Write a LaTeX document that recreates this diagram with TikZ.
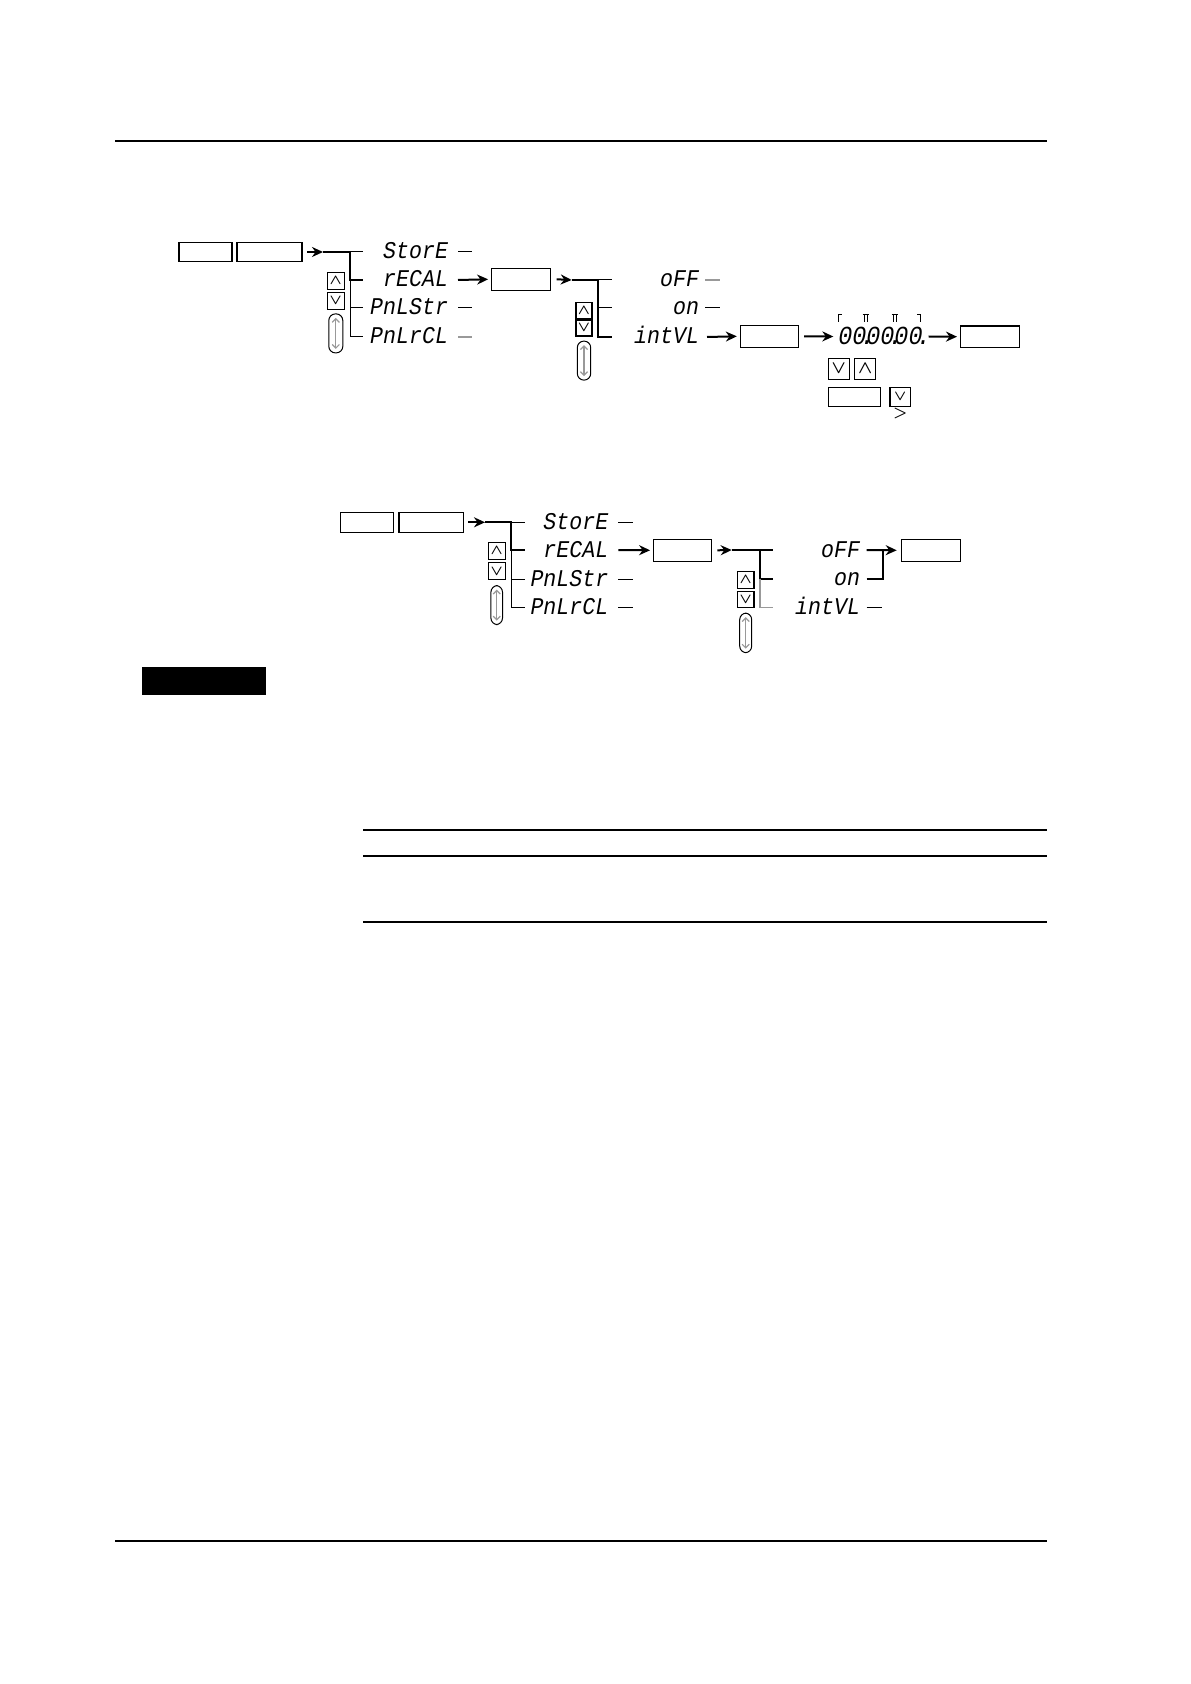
\documentclass[tikz,border=0pt]{standalone}
\usepackage{fontspec}
\newfontfamily\segfont{Liberation Mono}[FakeStretch=0.9]
\usetikzlibrary{positioning,arrows.meta}
\definecolor{lightline}{gray}{0.6}
\newcommand\segdot{\rlap{\kern-2.9pt.}}

\begin{document}
\begin{tikzpicture}[
	x=0.5pt, y=-0.5pt,
	every node/.style={inner sep=0pt, outer sep=0pt},
	btn/.style={rectangle, draw=black, line width=0.6pt, minimum height=10.5pt, minimum width=#1},
	btn/.default=29pt,
	key/.style={rectangle, draw=black, line width=0.6pt, minimum size=8.5pt, font=\scriptsize\boldmath},
	bigkey/.style={key, minimum size=10.5pt, font=\small\boldmath},
	updown/.style={rectangle, draw=black, line width=0.5pt, rounded corners=3.3pt, minimum width=7pt, minimum height=19.5pt},
	seg/.style={anchor=east, font=\segfont\itshape\fontsize{12}{12}\selectfont, text height=7pt, text depth=0pt},
	digits/.style={anchor=west, font=\segfont\itshape\fontsize{13}{13}\selectfont, text height=8pt, text depth=0pt},
	tip/.style={-{Stealth[length=5.5pt, width=5pt]}, line width=1pt},
	roll/.style={draw=lightline, line width=0.6pt, {Straight Barb[length=1.8pt]}-{Straight Barb[length=1.8pt]}},
	trunk/.style={line width=1pt},
	twig/.style={line width=0.5pt},
	faint/.style={line width=0.6pt, draw=lightline},
]
\useasboundingbox (0,0) rectangle (1190,1684);
\draw[line width=0.8pt] (115,141) -- (1047,141);
\draw[line width=0.8pt] (115,1541) -- (1047,1541);

% store / recall, interval
\node[btn=26.5pt, minimum height=9.5pt] (setA) at (205.5,252) {};
\node[btn=32.5pt, minimum height=9.5pt, right=2.5pt of setA] (funcA) {};
\coordinate (inA) at (323,252);
\coordinate (jA) at (350,252);
\coordinate (eA) at (363,252);
\node[seg] (storeA) at (448,252) {StorE};
\node[seg] (recalA) at (448,280) {rECAL};
\node[seg] (pstrA) at (448,308) {PnLStr};
\node[seg] (prclA) at (448,337) {PnLrCL};
\draw[tip] ([xshift=2.5pt]funcA.east) -- (inA);
\draw[trunk] (inA) -- (jA) |- (eA |- recalA.east);
\draw[twig] (jA) -- (eA);
\draw[twig] (jA |- recalA.east) |- (eA |- prclA.east);
\draw[twig] (jA |- pstrA.east) -- (eA |- pstrA.east);
\draw[twig] ([xshift=5pt]storeA.east) -- ++(7pt,0);
\draw[twig] ([xshift=5pt]pstrA.east) -- ++(7pt,0);
\draw[faint] ([xshift=5pt]prclA.east) -- ++(7pt,0);
\node[key] (upA) at (335.8,280.8) {$\wedge$};
\node[key, below=1.5pt of upA] (dnA) {$\vee$};
\node[updown, below=2.3pt of dnA] (rollA) {};
\draw[roll] ([yshift=-2pt]rollA.north) -- ([yshift=2pt]rollA.south);
\node[btn=29.5pt, minimum height=11pt] (modeA) at (521.2,279.3) {};
\draw[tip] ([xshift=5pt]recalA.east) -- ([xshift=-1.8pt]modeA.west);

\coordinate (inB) at (571.7,280);
\coordinate (jB) at (597.7,280);
\coordinate (eB) at (611.7,280);
\node[seg] (offA) at (699,280) {oFF};
\node[seg] (onA) at (699,308) {on};
\node[seg] (intA) at (699,337) {intVL};
\draw[tip] ([xshift=3pt]modeA.east) -- (inB);
\draw[trunk] (inB) -- (jB) |- (eB |- intA.east);
\draw[twig] (jB) -- (eB);
\draw[twig] (jB |- onA.east) -- (eB |- onA.east);
\draw[faint] ([xshift=3pt]offA.east) -- ++(7.5pt,0);
\draw[twig] ([xshift=3pt]onA.east) -- ++(7.5pt,0);
\node[key, minimum size=8pt] (upB) at (584,310.3) {$\wedge$};
\node[key, minimum size=8pt, below=0.9pt of upB] (dnB) {$\vee$};
\node[updown, minimum width=6.7pt, below=2.5pt of dnB] (rollB) {};
\draw[roll] ([yshift=-2pt]rollB.north) -- ([yshift=2pt]rollB.south);
\node[btn=29pt, minimum height=11pt] (ivA) at (769.2,336.3) {};
\draw[tip] ([xshift=4pt]intA.east) -- ([xshift=-1.7pt]ivA.west);

\node[digits] (timeA) at (838.3,336.5) {00\segdot00\segdot00\segdot};
\draw[twig] (838.5,322) -- (838.5,315) -- (841.5,315);
\draw[twig] (862.5,315) -- (869,315) (864.8,315) -- (864.8,322) (867,315) -- (867,322);
\draw[twig] (891.5,315) -- (898,315) (893.8,315) -- (893.8,322) (896,315) -- (896,322);
\draw[twig] (917,315) -- (920,315) -- (920,322);
\draw[tip] ([xshift=3pt]ivA.east) -- ([xshift=-2.5pt]timeA.west);
\node[btn=29.5pt, minimum height=10.7pt] (entA) at (989.7,336.7) {};
\draw[tip] ([xshift=3pt]timeA.east) -- ([xshift=-1.6pt]entA.west);
\node[bigkey] (dnC) at (838.7,368.8) {$\vee$};
\node[bigkey, right=2.7pt of dnC] (upC) {$\wedge$};
\node[btn=26pt, minimum height=9.7pt] (shiftA) at (854.5,397) {};
\node[key, minimum width=10.3pt, minimum height=9.7pt] (dnD) at (900.3,397) {$\vee$};
\node[font=\sffamily\bfseries\footnotesize, below=0.8pt of dnD] (gtA) {>};

% store / recall, off / on
\node[btn=26.3pt, minimum height=10pt] (setB) at (367,522.3) {};
\node[btn=32.2pt, minimum height=10pt, right=2.85pt of setB] (funcB) {};
\coordinate (inC) at (485,522.3);
\coordinate (jC) at (511,522.3);
\coordinate (eC) at (525,522.3);
\node[seg] (storeB) at (608.3,522.3) {StorE};
\node[seg] (recalB) at (608.3,550) {rECAL};
\node[seg] (pstrB) at (608.3,579) {PnLStr};
\node[seg] (prclB) at (608.3,607) {PnLrCL};
\draw[tip] ([xshift=2.5pt]funcB.east) -- (inC);
\draw[trunk] (inC) -- (jC) |- (eC |- recalB.east);
\draw[twig] (jC) -- (eC);
\draw[twig] (jC |- recalB.east) |- (eC |- prclB.east);
\draw[twig] (jC |- pstrB.east) -- (eC |- pstrB.east);
\draw[twig] ([xshift=5pt]storeB.east) -- ++(7.5pt,0);
\draw[twig] ([xshift=5pt]pstrB.east) -- ++(7.5pt,0);
\draw[twig] ([xshift=5pt]prclB.east) -- ++(7.5pt,0);
\node[key] (upD) at (496.7,550.7) {$\wedge$};
\node[key, below=1.8pt of upD] (dnE) {$\vee$};
\node[updown, minimum width=5.8pt, below=2.9pt of dnE] (rollC) {};
\draw[roll] ([yshift=-2pt]rollC.north) -- ([yshift=2pt]rollC.south);
\node[btn=29.2pt, minimum height=11pt] (modeB) at (682.5,550.3) {};
\draw[tip] ([xshift=5pt]recalB.east) -- ([xshift=-1.6pt]modeB.west);

\coordinate (inD) at (731.7,550);
\coordinate (jD) at (760,550);
\coordinate (eD) at (773.3,550);
\node[seg] (offB) at (860,550) {oFF};
\node[seg] (onB) at (860,578.5) {on};
\node[seg] (intB) at (860,607.5) {intVL};
\draw[tip] ([xshift=2.8pt]modeB.east) -- (inD);
\draw[trunk] (inD) -- (jD) -- (eD);
\draw[trunk] (jD) |- (eD |- onB.east);
\draw[faint] (jD |- onB.east) |- (eD |- intB.east);
\draw[twig] ([xshift=3.3pt]intB.east) -- ++(7.5pt,0);
\coordinate (jE) at (882.7,550);
\node[btn=29.5pt, minimum height=11pt] (endB) at (931.2,550.3) {};
\draw[tip] ([xshift=3.3pt]offB.east) -- ([xshift=-2.5pt]endB.west);
\draw[trunk] ([xshift=3.3pt]onB.east) -| (jE);
\node[key, minimum size=8.3pt] (upE) at (745.7,580) {$\wedge$};
\node[key, minimum size=8.3pt, below=1.4pt of upE] (dnF) {$\vee$};
\node[updown, minimum width=6pt, minimum height=19.8pt, below=2.7pt of dnF] (rollD) {};
\draw[roll] ([yshift=-2pt]rollD.north) -- ([yshift=2pt]rollD.south);

\fill (142,667) rectangle (266,695);
\draw[line width=0.7pt] (363,830) -- (1047,830);
\draw[line width=0.7pt] (363,856) -- (1047,856);
\draw[line width=0.7pt] (363,922) -- (1047,922);
\end{tikzpicture}
\end{document}
